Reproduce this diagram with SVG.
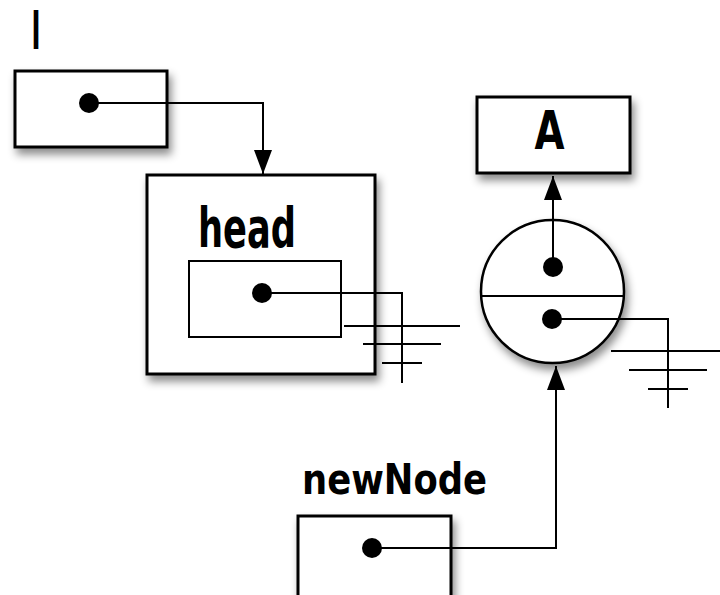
<svg xmlns="http://www.w3.org/2000/svg" width="720" height="595" viewBox="0 0 720 595">
<style>
.box{fill:#fff;stroke:#000;stroke-width:3;filter:url(#sh)}
.inner{fill:#fff;stroke:#000;stroke-width:2}
.ln{fill:none;stroke:#000;stroke-width:2}
.gnd{fill:none;stroke:#000;stroke-width:2}
.dot{fill:#000}
.lbl{font-family:"DejaVu Sans Condensed","DejaVu Sans",sans-serif;font-weight:bold;fill:#000}
</style>
<defs>
<filter id="sh" x="-20%" y="-20%" width="150%" height="150%">
<feDropShadow dx="3" dy="6" stdDeviation="4" flood-color="#000" flood-opacity="0.45"/>
</filter>
<marker id="arr" viewBox="0 0 24 18" refX="24" refY="9" markerWidth="24" markerHeight="18" markerUnits="userSpaceOnUse" orient="auto">
<path d="M0,0 L24,9 L0,18 Z" fill="#000"/>
</marker>
</defs>
<rect width="720" height="595" fill="#fff"/>
<g id="node-l">
<text class="lbl" x="36" y="49" font-size="52" text-anchor="middle" textLength="9" lengthAdjust="spacingAndGlyphs">l</text>
<rect class="box" x="15" y="71" width="152" height="76"/>
</g>
<g id="node-head">
<rect class="box" x="147" y="175" width="228" height="199"/>
<text class="lbl" x="198" y="247" font-size="56" textLength="98" lengthAdjust="spacingAndGlyphs">head</text>
<rect class="inner" x="189" y="261" width="152" height="76"/>
</g>
<g id="node-A">
<rect class="box" x="477" y="97" width="153" height="76"/>
<text class="lbl" x="549.5" y="149" font-size="53" text-anchor="middle" textLength="30" lengthAdjust="spacingAndGlyphs">A</text>
</g>
<g id="node-cell">
<circle cx="552.5" cy="291.5" r="71.5" fill="#fff" stroke="#000" stroke-width="2.5" filter="url(#sh)"/>
<line class="ln" x1="481" y1="296" x2="624" y2="296"/>
</g>
<g id="node-newNode">
<text class="lbl" x="302" y="494" font-size="42" textLength="185" lengthAdjust="spacingAndGlyphs">newNode</text>
<rect class="box" x="298" y="516" width="153" height="82"/>
</g>
<g id="connectors">
<polyline class="ln" points="89,103 263,103 263,174" marker-end="url(#arr)"/>
<polyline class="ln" points="262,293 402,293 402,383"/>
<line class="gnd" x1="344" y1="326" x2="460" y2="326"/>
<line class="gnd" x1="363" y1="344" x2="441" y2="344"/>
<line class="gnd" x1="382" y1="363" x2="422" y2="363"/>
<line class="ln" x1="553" y1="267" x2="553" y2="176" marker-end="url(#arr)"/>
<polyline class="ln" points="552,319 668,319 668,408"/>
<line class="gnd" x1="611" y1="351" x2="720" y2="351"/>
<line class="gnd" x1="629" y1="370" x2="707" y2="370"/>
<line class="gnd" x1="648" y1="389" x2="688" y2="389"/>
<polyline class="ln" points="372,548 556,548 556,366" marker-end="url(#arr)"/>
<circle class="dot" cx="89" cy="103" r="10"/>
<circle class="dot" cx="262" cy="293" r="10"/>
<circle class="dot" cx="553" cy="267" r="10"/>
<circle class="dot" cx="552" cy="319" r="10"/>
<circle class="dot" cx="372" cy="548" r="10"/>
</g>
</svg>
